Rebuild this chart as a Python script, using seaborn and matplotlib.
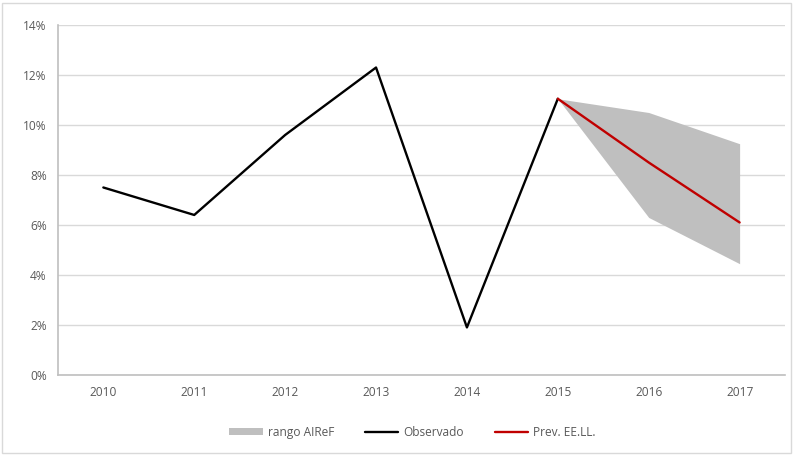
import pandas as pd
import matplotlib.pyplot as plt
import seaborn as sns
from matplotlib.patches import Patch
from matplotlib.lines import Line2D

# Data (percent)
years = ['2010', '2011', '2012', '2013', '2014', '2015', '2016', '2017']
observado = [7.5, 6.4, 9.6, 12.3, 1.9, 11.05]
prev_years = ['2015', '2016', '2017']
prev_eell = [11.05, 8.5, 6.1]
rango_low = [11.05, 6.3, 4.45]
rango_high = [11.05, 10.5, 9.25]

sns.set_style('white')
plt.rcParams['font.family'] = ['Open Sans', 'DejaVu Sans']

fig = plt.figure(figsize=(7.93, 4.55), dpi=100)
ax = fig.add_axes([0.073, 0.176, 0.917, 0.769])

# map year labels to categorical positions
pos = {y: i for i, y in enumerate(years)}
df_obs = pd.DataFrame({'x': [pos[y] for y in years[:len(observado)]], 'y': observado})
df_prev = pd.DataFrame({'x': [pos[y] for y in prev_years], 'y': prev_eell})

xr = [pos[y] for y in prev_years]
ax.fill_between(xr, rango_low, rango_high, color='#bfbfbf', linewidth=0, zorder=1)
sns.lineplot(data=df_obs, x='x', y='y', color='black', linewidth=1.7, ax=ax, zorder=3)
sns.lineplot(data=df_prev, x='x', y='y', color='#c00000', linewidth=1.7, ax=ax, zorder=4)

ax.set_xlim(-0.5, len(years) - 0.5)
ax.set_ylim(0, 14)
ax.set_xticks(range(len(years)))
ax.set_xticklabels(years)
ax.set_yticks(range(0, 15, 2))
ax.set_yticklabels([f'{v}%' for v in range(0, 15, 2)])
ax.set_xlabel('')
ax.set_ylabel('')
ax.tick_params(axis='both', length=0, labelsize=8.6, colors='#595959', pad=8)
ax.yaxis.grid(True, color='#d9d9d9', linewidth=1)
ax.set_axisbelow(True)
for s in ['top', 'right']:
    ax.spines[s].set_visible(False)
for s in ['left', 'bottom']:
    ax.spines[s].set_color('#bfbfbf')
    ax.spines[s].set_linewidth(1.2)

handles = [Patch(facecolor='#bfbfbf', edgecolor='none'),
           Line2D([], [], color='black', linewidth=1.7),
           Line2D([], [], color='#c00000', linewidth=1.7)]
fig.legend(handles, ['rango AIReF', 'Observado', 'Prev. EE.LL.'],
           loc='center', bbox_to_anchor=(0.52, 0.05), ncol=3, frameon=False,
           fontsize=8.6, labelcolor='#595959', handlelength=2.8, handleheight=0.6,
           columnspacing=2.6, handletextpad=0.4)

# light frame around the whole chart
fig.patches.append(plt.Rectangle((0.003, 0.004), 0.994, 0.99, transform=fig.transFigure,
                                 fill=False, edgecolor='#d9d9d9', linewidth=1))

fig.savefig('out.png', dpi=100)
